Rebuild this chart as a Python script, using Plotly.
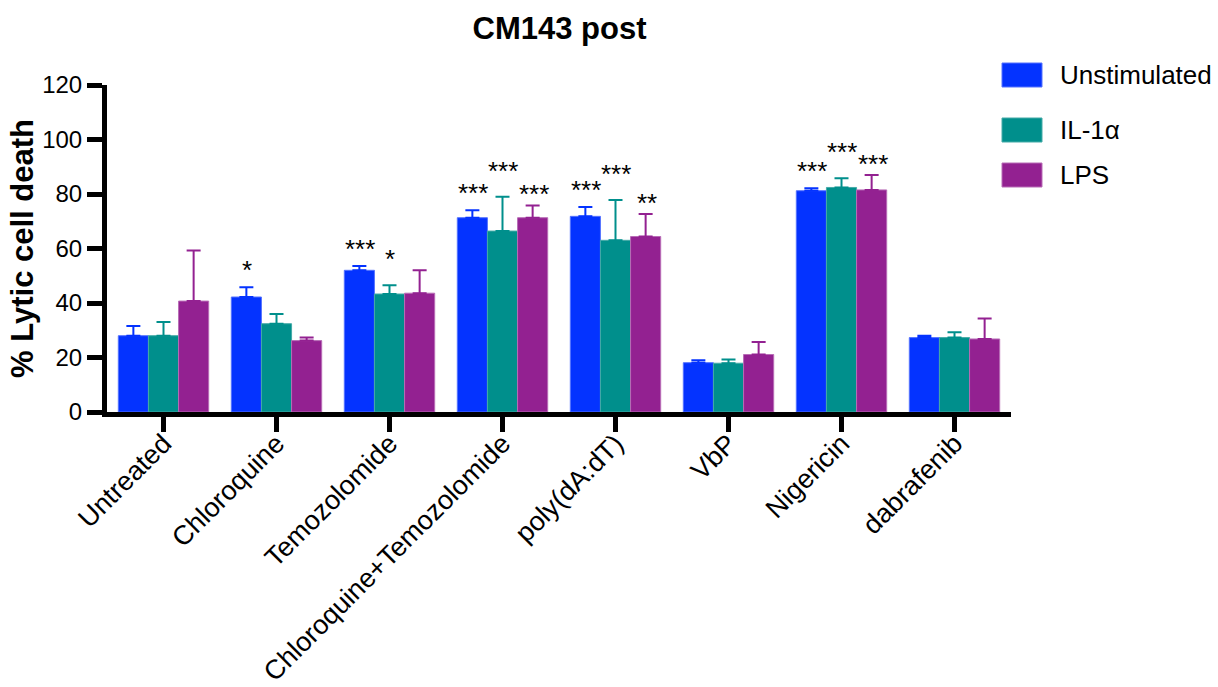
import plotly.graph_objects as go

categories = ["Untreated", "Chloroquine", "Temozolomide", "Chloroquine+Temozolomide",
              "poly(dA:dT)", "VbP", "Nigericin", "dabrafenib"]
series_names = ["Unstimulated", "IL-1α", "LPS"]

unstim_mean = [28.0, 42.2, 52.0, 71.3, 71.8, 18.1, 81.2, 27.3]
unstim_err = [3.6, 3.6, 1.6, 2.7, 3.4, 0.9, 0.9, 0.7]
il1a_mean = [28.0, 32.4, 43.3, 66.4, 63.0, 17.9, 82.4, 27.3]
il1a_err = [5.0, 3.6, 3.2, 12.6, 14.8, 1.4, 3.4, 2.0]
lps_mean = [40.7, 26.2, 43.6, 71.3, 64.4, 21.1, 81.5, 26.8]
lps_err = [18.6, 1.1, 8.4, 4.5, 8.3, 4.6, 5.5, 7.5]

unstim_sig = ["", "*", "***", "***", "***", "", "***", ""]
il1a_sig = ["", "", "*", "***", "***", "", "***", ""]
lps_sig = ["", "", "", "***", "**", "", "***", ""]

colors = ["#0433FF", "#008F8C", "#932191"]
edge_colors = ["#5573FF", "#45AAA7", "#B86CB6"]

means = [unstim_mean, il1a_mean, lps_mean]
errs = [unstim_err, il1a_err, lps_err]
sigs = [unstim_sig, il1a_sig, lps_sig]

FONT = "Arial, Liberation Sans, Helvetica, sans-serif"

# plot area in pixels
L, R, T, B = 107, 1011, 85, 412
W, H = 1218, 687
PW, PH = R - L, B - T

fig = go.Figure()
for name, m, e, c, ec in zip(series_names, means, errs, colors, edge_colors):
    fig.add_trace(go.Bar(
        name=name, x=categories, y=m,
        marker=dict(color=c, line=dict(color=ec, width=1)),
        error_y=dict(type="data", symmetric=False, array=e, arrayminus=[0] * len(e),
                     color=c, thickness=2, width=7),
        showlegend=False,
    ))

# significance stars (middle series lifted a little so neighbours don't collide)
xshifts = [-30, 0, 31]
yshifts = [0, 9, -6]
annotations = []
for m, e, s, xs, ys in zip(means, errs, sigs, xshifts, yshifts):
    for cat, mv, ev, sv in zip(categories, m, e, s):
        if sv:
            annotations.append(dict(
                x=cat, y=mv + ev, xref="x", yref="y", text=sv, showarrow=False,
                xshift=xs, yshift=ys, yanchor="bottom", xanchor="center",
                font=dict(family=FONT, size=26, color="black"),
            ))

# legend drawn with large swatches
shapes = []
swatch_tops = [63, 118, 163]
for name, c, ec, top in zip(series_names, colors, edge_colors, swatch_tops):
    y1 = (B - top) / PH
    y0 = (B - top - 24) / PH
    shapes.append(dict(type="rect", xref="paper", yref="paper",
                       x0=(1002 - L) / PW, x1=(1042 - L) / PW, y0=y0, y1=y1,
                       fillcolor=c, line=dict(color=ec, width=1), layer="above"))
    annotations.append(dict(x=(1058 - L) / PW, y=(y0 + y1) / 2, xref="paper", yref="paper",
                            text=name, showarrow=False, xanchor="left", yanchor="middle",
                            font=dict(family=FONT, size=26, color="black")))

fig.update_layout(
    width=W, height=H,
    margin=dict(l=L, r=W - R, t=T, b=H - B, pad=0),
    paper_bgcolor="white", plot_bgcolor="white",
    barmode="group", bargap=0.2, bargroupgap=0,
    title=dict(text="<b>CM143 post</b>", x=559.5 / W, xanchor="center",
               y=1 - 28 / H, yanchor="middle",
               font=dict(family=FONT, size=31, color="black")),
    font=dict(family=FONT, color="black"),
    annotations=annotations, shapes=shapes,
)

fig.update_xaxes(
    range=[-0.5, 7.5], showline=True, linecolor="black", linewidth=5,
    ticks="outside", ticklen=15, tickwidth=5, tickcolor="black",
    tickangle=-45, tickfont=dict(family=FONT, size=27, color="black"),
    ticklabelstandoff=-15,
    showgrid=False, zeroline=False, automargin=False,
)
fig.update_yaxes(
    range=[0, 120], tickvals=[0, 20, 40, 60, 80, 100, 120],
    showline=True, linecolor="black", linewidth=5,
    ticks="outside", ticklen=15, tickwidth=5, tickcolor="black",
    tickfont=dict(family=FONT, size=24, color="black"),
    title=dict(text="<b>% Lytic cell death</b>", standoff=1,
               font=dict(family=FONT, size=31, color="black")),
    showgrid=False, zeroline=False, automargin=False,
)

fig.write_html("out.html", config={"displayModeBar": False},
               post_script="document.body.style.margin='0px';document.body.style.overflow='hidden';")
